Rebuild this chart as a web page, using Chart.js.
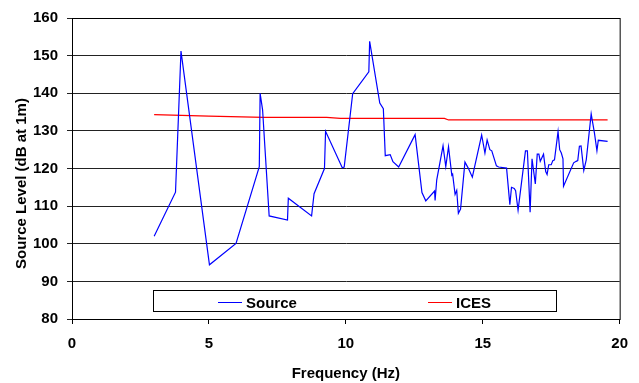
<!DOCTYPE html>
<html>
<head>
<meta charset="utf-8">
<script src="https://cdn.jsdelivr.net/npm/chart.js@4/dist/chart.umd.min.js"></script>
<style>
  html, body { margin: 0; padding: 0; background: #fff; }
  #wrap { width: 639px; height: 383px; }
</style>
</head>
<body>
<div id="wrap"><canvas id="chart"></canvas></div>
<script>
// data
const sourceFreq = [3.0, 3.78, 3.98, 5.02, 5.99, 6.84, 6.87, 6.96, 7.2, 7.87, 7.9, 8.75, 8.84, 9.22, 9.26,
  9.87, 9.94, 10.25, 10.84, 10.87, 11.24, 11.37, 11.44, 11.62, 11.72, 11.93, 12.53, 12.78, 12.92,
  13.24, 13.26, 13.32, 13.55, 13.65, 13.75, 13.87, 13.9, 13.99, 14.05, 14.11, 14.19, 14.35, 14.47,
  14.62, 14.72, 14.96, 15.08, 15.16, 15.26, 15.33, 15.5, 15.58, 15.87, 15.99, 16.05, 16.15, 16.2,
  16.29, 16.56, 16.63, 16.73, 16.8, 16.92, 16.99, 17.05, 17.1, 17.22, 17.3, 17.35, 17.41, 17.5,
  17.56, 17.62, 17.75, 17.81, 17.87, 17.93, 17.95, 18.32, 18.41, 18.47, 18.53, 18.59, 18.69, 18.78,
  18.96, 19.08, 19.17, 19.22, 19.56];
const sourceLevel = [102.0, 113.7, 151.2, 94.4, 100.1, 120.5, 140.0, 135.6, 107.4, 106.3, 112.1, 107.4, 113.3, 120.0, 129.9,
  120.2, 120.4, 139.9, 145.7, 153.8, 137.4, 135.9, 123.4, 123.7, 121.8, 120.4, 129.0, 113.6, 111.4,
  114.0, 111.5, 117.0, 126.0, 120.5, 125.8, 118.2, 118.5, 113.1, 114.2, 108.1, 109.2, 121.7, 120.1,
  117.7, 121.0, 128.9, 124.1, 127.6, 125.0, 124.7, 120.7, 120.4, 120.1, 110.4, 115.0, 114.7, 114.1,
  108.9, 124.7, 124.7, 108.4, 122.6, 115.9, 123.8, 123.8, 121.9, 123.8, 119.2, 118.4, 121.0, 121.0,
  122.1, 122.3, 129.8, 125.0, 124.1, 122.6, 115.3, 121.5, 121.9, 122.1, 125.9, 126.0, 119.5, 122.3,
  134.5, 129.4, 124.7, 127.5, 127.2];
const icesFreq = [3.0, 5.0, 7.0, 9.3, 9.8, 13.6, 13.75, 19.56];
const icesLevel = [134.3, 133.9, 133.6, 133.6, 133.3, 133.3, 132.9, 132.9];
const yTicks = [80, 90, 100, 110, 120, 130, 140, 150, 160];
const xTicks = [0, 5, 10, 15, 20];
const yTitle = "Source Level (dB at 1m)";

const toPoints = (xs, ys) => xs.map((x, i) => ({ x: x, y: ys[i] }));

const FONT = "'Liberation Sans', Arial, sans-serif";

// frame, y title and the legend box that sits inside the plot
const boxPlugin = {
  id: "boxLegend",
  afterDraw(chart) {
    const ctx = chart.ctx;
    const a = chart.chartArea;
    ctx.save();
    ctx.strokeStyle = "#000";
    ctx.lineWidth = 1;
    ctx.strokeRect(a.left + 0.5, a.top + 0.5, a.right - a.left, a.bottom - a.top);

    // y title, sits a bit below the middle like the original
    ctx.save();
    ctx.translate(21.5, (a.top + a.bottom) / 2 + 15);
    ctx.rotate(-Math.PI / 2);
    ctx.font = "bold 15px " + FONT;
    ctx.fillStyle = "#000";
    ctx.textAlign = "center";
    ctx.textBaseline = "middle";
    ctx.fillText(yTitle, 0, 0);
    ctx.restore();

    const bx = a.left + 81, by = a.top + 272, bw = 403, bh = 21;
    ctx.fillStyle = "#fff";
    ctx.fillRect(bx, by, bw, bh);
    ctx.strokeStyle = "#000";
    ctx.strokeRect(bx + 0.5, by + 0.5, bw, bh);

    ctx.font = "bold 15px " + FONT;
    ctx.textBaseline = "middle";
    const cy = by + 12.5;
    const slots = [bx + 65, bx + 275];
    chart.data.datasets.forEach((ds, i) => {
      const sx = slots[i];
      ctx.strokeStyle = ds.borderColor;
      ctx.lineWidth = 1;
      ctx.beginPath();
      ctx.moveTo(sx, cy);
      ctx.lineTo(sx + 24, cy);
      ctx.stroke();
      ctx.fillStyle = "#000";
      ctx.fillText(ds.label, sx + 28, cy + 1.5);
    });
    ctx.restore();
  }
};

new Chart(document.getElementById("chart"), {
  type: "line",
  data: {
    datasets: [
      {
        label: "Source",
        data: toPoints(sourceFreq, sourceLevel),
        borderColor: "#0000ff",
        borderWidth: 1.2,
        pointRadius: 0,
        tension: 0
      },
      {
        label: "ICES",
        data: toPoints(icesFreq, icesLevel),
        borderColor: "#ff0000",
        borderWidth: 1.2,
        pointRadius: 0,
        tension: 0
      }
    ]
  },
  options: {
    responsive: true,
    maintainAspectRatio: false,
    animation: false,
    layout: { padding: { top: 17, right: 17, left: 0, bottom: 0 } },
    plugins: {
      legend: { display: false },
      tooltip: { enabled: false }
    },
    scales: {
      x: {
        type: "linear",
        min: 0,
        max: 20,
        afterFit(scale) { scale.height = 64; },
        afterBuildTicks(scale) { scale.ticks = xTicks.map(v => ({ value: v })); },
        grid: { drawOnChartArea: false, drawTicks: true, tickLength: 5, color: "#000" },
        border: { color: "#000", width: 1 },
        ticks: { color: "#000", padding: 11, maxRotation: 0, font: { family: FONT, size: 15, weight: "bold" } },
        title: {
          display: true,
          text: "Frequency (Hz)",
          color: "#000",
          padding: { top: 0, bottom: 0 },
          font: { family: FONT, size: 15, weight: "bold" }
        }
      },
      y: {
        min: 80,
        max: 160,
        afterFit(scale) { scale.width = 72; },
        afterBuildTicks(scale) { scale.ticks = yTicks.map(v => ({ value: v })); },
        grid: { color: "#222", lineWidth: 1, tickLength: 5 },
        border: { color: "#000", width: 1 },
        ticks: { color: "#000", padding: 9, font: { family: FONT, size: 15, weight: "bold" } }
      }
    }
  },
  plugins: [boxPlugin]
});
</script>
</body>
</html>
